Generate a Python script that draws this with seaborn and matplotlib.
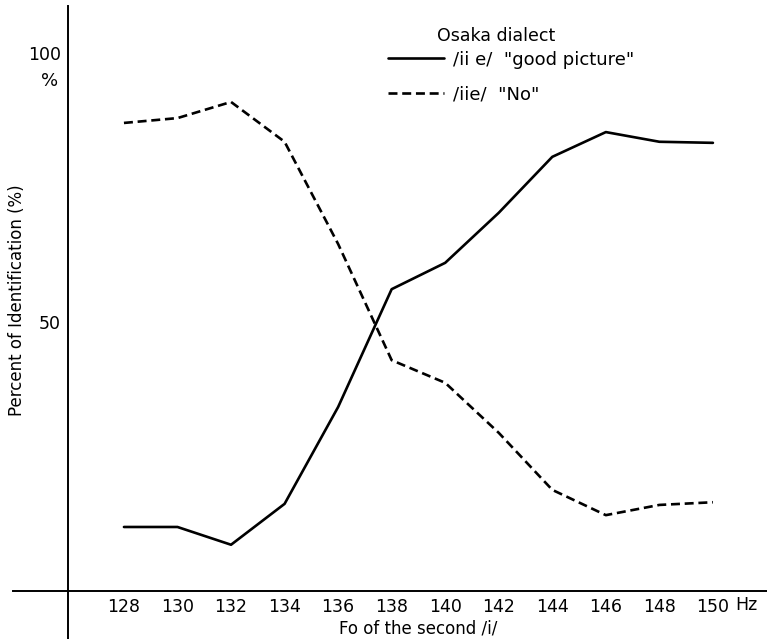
import numpy as np
import pandas as pd
import matplotlib
matplotlib.use("Agg")
import matplotlib.pyplot as plt
import seaborn as sns

# Fo of the second /i/ (Hz)
FREQS = [128, 130, 132, 134, 136, 138, 140, 142, 144, 146, 148, 150]

# percent identification
GOOD_PICTURE = [11.9, 11.9, 8.6, 16.2, 34.2, 56.1, 61.0, 70.3, 80.7, 85.3, 83.5, 83.3]
NO = [87.0, 87.9, 90.9, 83.5, 64.5, 42.9, 38.7, 29.4, 18.8, 14.1, 16.0, 16.5]

LABEL_GOOD = '/ii e/  "good picture"'
LABEL_NO = '/iie/  "No"'

Y_TICKS = [50, 100]
Y_TICK_LABELS = ["50", "100"]


def main():
    # long format for seaborn
    df = pd.DataFrame(
        {
            "hz": FREQS * 2,
            "pct": GOOD_PICTURE + NO,
            "response": [LABEL_GOOD] * len(FREQS) + [LABEL_NO] * len(FREQS),
        }
    )

    sns.set_style("white")
    plt.rcParams["font.family"] = ["DejaVu Sans"]
    # scan is pure black ink
    plt.rcParams["text.color"] = "black"
    plt.rcParams["axes.labelcolor"] = "black"
    plt.rcParams["xtick.color"] = "black"
    plt.rcParams["ytick.color"] = "black"

    fig = plt.figure(figsize=(7.67, 6.39), dpi=100)
    ax = fig.add_axes([0, 0, 1, 1])

    sns.lineplot(
        data=df,
        x="hz",
        y="pct",
        style="response",
        style_order=[LABEL_GOOD, LABEL_NO],
        dashes={LABEL_GOOD: "", LABEL_NO: (3.4, 1.8)},
        color="black",
        linewidth=1.9,
        ax=ax,
    )

    # axis limits so the spines land where they are in the scan
    ax.set_xlim(123.37, 152.02)
    ax.set_ylim(-8.92, 109.85)

    # crossing axes drawn at data positions
    for side in ["top", "right"]:
        ax.spines[side].set_visible(False)
    ax.spines["left"].set_position(("data", 125.9))
    ax.spines["bottom"].set_position(("data", 0))
    ax.spines["left"].set_bounds(-8.92, 108.7)
    ax.spines["bottom"].set_bounds(123.86, 152.02)
    for side in ["left", "bottom"]:
        ax.spines[side].set_color("black")
        ax.spines[side].set_linewidth(1.4)

    ax.set_xticks(FREQS)
    ax.set_xticklabels([str(f) for f in FREQS])
    ax.set_yticks(Y_TICKS)
    ax.set_yticklabels(Y_TICK_LABELS)
    ax.tick_params(axis="both", direction="in", length=8, width=1.3,
                   color="black", labelcolor="black", labelsize=12.5, pad=5)

    # labels
    ax.set_xlabel("Fo of the second /i/", fontsize=12)
    ax.set_ylabel("Percent of Identification (%)", fontsize=12)
    ax.xaxis.set_label_coords(0.545, 0.031)
    ax.yaxis.set_label_coords(0.034, 0.53)

    ax.text(0.065, 0.874, "%", transform=ax.transAxes, fontsize=13,
            ha="center", va="center")
    ax.text(0.988, 0.053, "Hz", transform=ax.transAxes, fontsize=12.5,
            ha="right", va="center")

    # legend
    sns.move_legend(
        ax,
        loc="upper left",
        bbox_to_anchor=(0.485, 0.946),
        frameon=False,
        title=None,
        fontsize=13,
        handlelength=3.1,
        handletextpad=0.5,
        labelspacing=0.9,
    )
    ax.text(0.57, 0.944, "Osaka dialect", transform=ax.transAxes,
            fontsize=12.5, ha="left", va="center")

    fig.savefig("out.png", dpi=100)


if __name__ == "__main__":
    main()
